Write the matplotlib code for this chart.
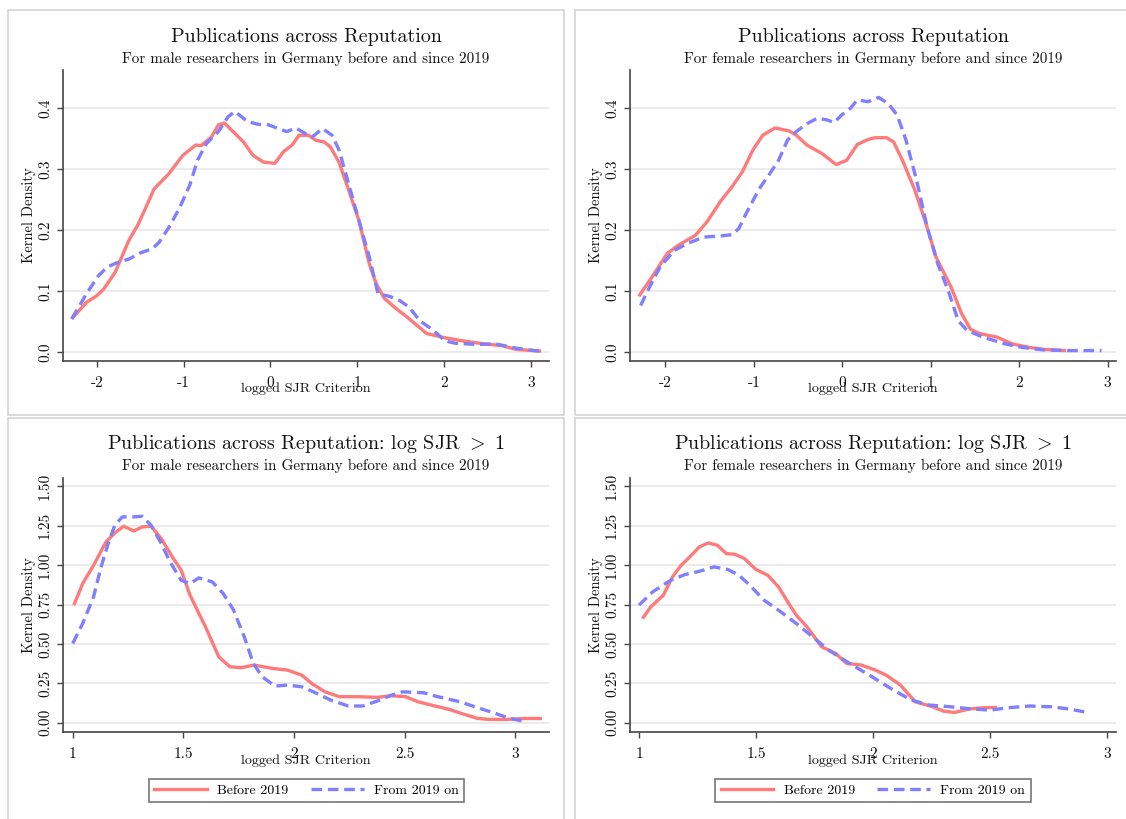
import matplotlib
matplotlib.use("Agg")
import matplotlib.pyplot as plt
from matplotlib.patches import Rectangle
from matplotlib.lines import Line2D

plt.rcParams["font.family"] = "cmr10"
plt.rcParams["mathtext.fontset"] = "cm"
plt.rcParams["axes.unicode_minus"] = False

# ---------------------------------
# Data
# ---------------------------------

# top left: male, all journals
tl_x_before = [-2.29, -2.12, -2.0, -1.92, -1.79, -1.63, -1.52, -1.34, -1.17, -1.01, -0.86, -0.80,
               -0.68, -0.60, -0.53, -0.43, -0.31, -0.20, -0.08, -0.02, 0.05, 0.15, 0.25, 0.33,
               0.44, 0.52, 0.62, 0.69, 0.79, 0.89, 1.02, 1.14, 1.22, 1.31, 1.43, 1.60, 1.80,
               2.01, 2.21, 2.46, 2.67, 2.83, 3.12]
tl_y_before = [0.055, 0.082, 0.093, 0.104, 0.131, 0.184, 0.211, 0.268, 0.293, 0.323, 0.340, 0.339,
               0.353, 0.373, 0.376, 0.362, 0.345, 0.323, 0.312, 0.311, 0.310, 0.329, 0.340, 0.356,
               0.356, 0.348, 0.345, 0.337, 0.312, 0.271, 0.216, 0.145, 0.112, 0.089, 0.074, 0.055,
               0.031, 0.024, 0.019, 0.014, 0.011, 0.005, 0.002]
tl_x_after = [-2.29, -2.12, -1.98, -1.88, -1.75, -1.63, -1.50, -1.36, -1.28, -1.17, -1.05, -0.93,
              -0.84, -0.74, -0.60, -0.49, -0.41, -0.26, -0.14, -0.02, 0.09, 0.19, 0.29, 0.40,
              0.48, 0.60, 0.71, 0.79, 0.89, 1.02, 1.14, 1.24, 1.37, 1.49, 1.60, 1.72, 1.88,
              2.01, 2.13, 2.38, 2.59, 2.83, 3.04, 3.12]
tl_y_after = [0.055, 0.096, 0.126, 0.140, 0.148, 0.153, 0.163, 0.170, 0.181, 0.205, 0.236, 0.274,
              0.315, 0.342, 0.362, 0.386, 0.395, 0.378, 0.374, 0.373, 0.367, 0.362, 0.368, 0.359,
              0.353, 0.367, 0.356, 0.332, 0.282, 0.216, 0.156, 0.096, 0.092, 0.085, 0.074, 0.052,
              0.036, 0.019, 0.015, 0.013, 0.014, 0.007, 0.003, 0.002]

# top right: female, all journals
tr_x_before = [-2.30, -2.14, -1.98, -1.86, -1.66, -1.53, -1.37, -1.25, -1.13, -1.01, -0.90, -0.76,
               -0.60, -0.52, -0.40, -0.23, -0.07, 0.05, 0.17, 0.29, 0.37, 0.50, 0.58, 0.68,
               0.82, 0.94, 1.06, 1.23, 1.35, 1.45, 1.55, 1.75, 1.92, 2.12, 2.28, 2.53]
tr_y_before = [0.092, 0.126, 0.162, 0.175, 0.192, 0.214, 0.249, 0.271, 0.296, 0.332, 0.356, 0.368,
               0.363, 0.356, 0.340, 0.326, 0.308, 0.315, 0.341, 0.349, 0.352, 0.352, 0.345, 0.315,
               0.266, 0.214, 0.156, 0.107, 0.063, 0.038, 0.031, 0.025, 0.014, 0.008, 0.005, 0.003]
tr_x_after = [-2.28, -2.18, -2.06, -1.90, -1.76, -1.57, -1.37, -1.25, -1.17, -1.09, -0.94, -0.82,
              -0.72, -0.62, -0.52, -0.40, -0.28, -0.17, -0.09, -0.01, 0.09, 0.17, 0.29, 0.41,
              0.52, 0.62, 0.72, 0.84, 0.96, 1.08, 1.21, 1.31, 1.41, 1.59, 1.84, 2.04, 2.28,
              2.53, 2.93]
tr_y_after = [0.077, 0.107, 0.140, 0.167, 0.178, 0.189, 0.191, 0.193, 0.203, 0.227, 0.268, 0.293,
              0.315, 0.348, 0.362, 0.375, 0.384, 0.381, 0.377, 0.389, 0.400, 0.414, 0.411, 0.418,
              0.408, 0.389, 0.348, 0.282, 0.205, 0.145, 0.096, 0.052, 0.036, 0.025, 0.014, 0.008,
              0.004, 0.003, 0.003]

# bottom left: male, log SJR > 1
bl_x_before = [1.005, 1.045, 1.094, 1.15, 1.19, 1.23, 1.276, 1.313, 1.354, 1.40, 1.45, 1.49,
               1.53, 1.60, 1.66, 1.71, 1.76, 1.82, 1.905, 1.97, 2.035, 2.08, 2.14, 2.205,
               2.29, 2.375, 2.44, 2.505, 2.56, 2.62, 2.70, 2.765, 2.83, 2.88, 2.96, 3.04, 3.12]
bl_y_before = [0.746, 0.883, 0.999, 1.147, 1.204, 1.247, 1.217, 1.242, 1.247, 1.168, 1.052, 0.968,
               0.809, 0.608, 0.418, 0.355, 0.349, 0.366, 0.344, 0.334, 0.302, 0.249, 0.196, 0.165,
               0.165, 0.161, 0.171, 0.165, 0.133, 0.112, 0.085, 0.055, 0.027, 0.021, 0.021, 0.027,
               0.027]
bl_x_after = [1.0, 1.045, 1.094, 1.126, 1.16, 1.19, 1.224, 1.27, 1.313, 1.354, 1.40, 1.44,
              1.49, 1.53, 1.57, 1.63, 1.68, 1.727, 1.775, 1.816, 1.856, 1.913, 1.97, 2.035,
              2.08, 2.165, 2.245, 2.31, 2.375, 2.44, 2.49, 2.586, 2.65, 2.75, 2.83, 2.91,
              2.975, 3.05]
bl_y_after = [0.503, 0.630, 0.799, 0.978, 1.137, 1.253, 1.306, 1.306, 1.310, 1.253, 1.137, 1.020,
              0.904, 0.883, 0.919, 0.894, 0.820, 0.714, 0.545, 0.376, 0.292, 0.232, 0.239, 0.228,
              0.201, 0.144, 0.106, 0.106, 0.137, 0.175, 0.196, 0.190, 0.165, 0.133, 0.095, 0.059,
              0.027, 0.006]

# bottom right: female, log SJR > 1
br_x_before = [1.015, 1.05, 1.104, 1.143, 1.18, 1.21, 1.258, 1.296, 1.335, 1.373, 1.41, 1.45,
               1.50, 1.55, 1.596, 1.64, 1.672, 1.718, 1.78, 1.84, 1.887, 1.95, 2.01, 2.056,
               2.117, 2.18, 2.255, 2.30, 2.348, 2.41, 2.47, 2.53]
br_y_before = [0.661, 0.735, 0.809, 0.925, 0.999, 1.042, 1.116, 1.141, 1.126, 1.073, 1.069, 1.042,
               0.972, 0.936, 0.862, 0.756, 0.682, 0.608, 0.482, 0.440, 0.376, 0.366, 0.334, 0.302,
               0.239, 0.133, 0.101, 0.074, 0.065, 0.087, 0.095, 0.097]
br_x_after = [1.0, 1.058, 1.135, 1.196, 1.258, 1.32, 1.38, 1.427, 1.473, 1.534, 1.596, 1.672,
              1.75, 1.81, 1.90, 1.995, 2.087, 2.163, 2.24, 2.332, 2.424, 2.50, 2.578, 2.67,
              2.762, 2.839, 2.916]
br_y_after = [0.746, 0.830, 0.904, 0.940, 0.961, 0.989, 0.972, 0.936, 0.873, 0.778, 0.714, 0.630,
              0.535, 0.461, 0.376, 0.292, 0.207, 0.144, 0.112, 0.101, 0.087, 0.080, 0.095, 0.106,
              0.101, 0.087, 0.065]

# ticks
top_xticks = [-2, -1, 0, 1, 2, 3]
top_xlabels = ["-2", "-1", "0", "1", "2", "3"]
top_yticks = [0.0, 0.1, 0.2, 0.3, 0.4]
top_ylabels = ["0.0", "0.1", "0.2", "0.3", "0.4"]
bot_xticks = [1, 1.5, 2, 2.5, 3]
bot_xlabels = ["1", "1.5", "2", "2.5", "3"]
bot_yticks = [0.0, 0.25, 0.5, 0.75, 1.0, 1.25, 1.5]
bot_ylabels = ["0.00", "0.25", "0.50", "0.75", "1.00", "1.25", "1.50"]

title_top = "Publications across Reputation"
title_bot = "Publications across Reputation: log SJR $>$ 1"
sub_male = "For male researchers in Germany before and since 2019"
sub_female = "For female researchers in Germany before and since 2019"
legend_labels = ["Before 2019", "From 2019 on"]

# ---------------------------------
# Figure
# ---------------------------------

W, H = 1126, 819
fig = plt.figure(figsize=(W / 100, H / 100), dpi=100)
fig.patch.set_facecolor("white")

RED = "#ff7a7a"
BLUE = "#7f7fff"
GRID = "#e9e9e9"
AXC = "#444444"


def px_axes(x0, y0, x1, y1):
    return fig.add_axes([x0 / W, 1 - y1 / H, (x1 - x0) / W, (y1 - y0) / H])


def panel_box(x0, y0, x1, y1):
    fig.add_artist(Rectangle((x0 / W, 1 - y1 / H), (x1 - x0) / W, (y1 - y0) / H,
                             transform=fig.transFigure, fill=False,
                             edgecolor="#d4d4d4", linewidth=1.2))


# panel frames
panel_box(8, 10, 564, 415)
panel_box(575, 10, 1130, 415)
panel_box(8, 418, 564, 830)
panel_box(575, 418, 1130, 830)


def style_axes(ax, xticks, xlabels, yticks, ylabels, xlim, ylim):
    ax.set_xlim(xlim)
    ax.set_ylim(ylim)
    ax.set_xticks(xticks)
    ax.set_xticklabels(xlabels)
    ax.set_yticks(yticks)
    ax.set_yticklabels(ylabels, rotation=90, va="center")
    ax.spines["top"].set_visible(False)
    ax.spines["right"].set_visible(False)
    for s in ["left", "bottom"]:
        ax.spines[s].set_color(AXC)
        ax.spines[s].set_linewidth(1.2)
    ax.tick_params(axis="both", direction="out", length=4, width=1.0, color=AXC,
                   labelsize=11, labelcolor="#111111")
    ax.tick_params(axis="x", pad=7)
    ax.tick_params(axis="y", pad=4)
    ax.yaxis.grid(True, color=GRID, linewidth=1.3)
    ax.set_axisbelow(True)
    ax.set_xlabel("logged SJR Criterion", fontsize=10.2, color="#111111")
    ax.xaxis.set_label_coords(0.5, -0.075)
    ax.set_ylabel("Kernel Density", fontsize=10.5, color="#111111")


def draw(ax, xb, yb, xa, ya):
    ax.plot(xb, yb, color=RED, linewidth=2.4, solid_capstyle="butt")
    ax.plot(xa, ya, color=BLUE, linewidth=2.4, dashes=(3.2, 1.7))


# top left
ax1 = px_axes(63, 70, 549, 360.7)
draw(ax1, tl_x_before, tl_y_before, tl_x_after, tl_y_after)
style_axes(ax1, top_xticks, top_xlabels, top_yticks, top_ylabels, (-2.39, 3.21), (-0.0136, 0.463))
ax1.yaxis.set_label_coords(-0.055, 0.5)

# top right
ax2 = px_axes(630, 70, 1116, 360.7)
draw(ax2, tr_x_before, tr_y_before, tr_x_after, tr_y_after)
style_axes(ax2, top_xticks, top_xlabels, top_yticks, top_ylabels, (-2.40, 3.094), (-0.0136, 0.463))
ax2.yaxis.set_label_coords(-0.055, 0.5)

# bottom left
ax3 = px_axes(63, 478, 549, 731.7)
draw(ax3, bl_x_before, bl_y_before, bl_x_after, bl_y_after)
style_axes(ax3, bot_xticks, bot_xlabels, bot_yticks, bot_ylabels, (0.956, 3.152), (-0.057, 1.553))
ax3.yaxis.set_label_coords(-0.055, 0.5)
ax3.xaxis.set_label_coords(0.5, -0.088)

# bottom right
ax4 = px_axes(630, 478, 1116, 731.7)
draw(ax4, br_x_before, br_y_before, br_x_after, br_y_after)
style_axes(ax4, bot_xticks, bot_xlabels, bot_yticks, bot_ylabels, (0.9615, 3.038), (-0.057, 1.553))
ax4.yaxis.set_label_coords(-0.055, 0.5)
ax4.xaxis.set_label_coords(0.5, -0.088)

# titles
for cx, title, sub, ty, sy in [
    (306, title_top, sub_male, 41.7, 62.5),
    (873, title_top, sub_female, 41.7, 62.5),
    (306, title_bot, sub_male, 449.3, 470.3),
    (873, title_bot, sub_female, 449.3, 470.3),
]:
    fig.text(cx / W, 1 - ty / H, title, ha="center", va="baseline", fontsize=14.4, color="#111111")
    fig.text(cx / W, 1 - sy / H, sub, ha="center", va="baseline", fontsize=10.9, color="#111111")

# legends under the bottom panels
handles = [
    Line2D([], [], color=RED, linewidth=2.4),
    Line2D([], [], color=BLUE, linewidth=2.4, dashes=(3.2, 1.7)),
]
for cx in [306.5, 873]:
    leg = fig.legend(handles, legend_labels, loc="center", bbox_to_anchor=(cx / W, 1 - 790.5 / H),
                     ncol=2, fontsize=10, frameon=True, fancybox=False, handlelength=3.8,
                     columnspacing=1.6, handletextpad=0.75, borderpad=0.4, borderaxespad=0)
    leg.get_frame().set_edgecolor("#555555")
    leg.get_frame().set_linewidth(1.2)

plt.savefig("out.png", dpi=100)
